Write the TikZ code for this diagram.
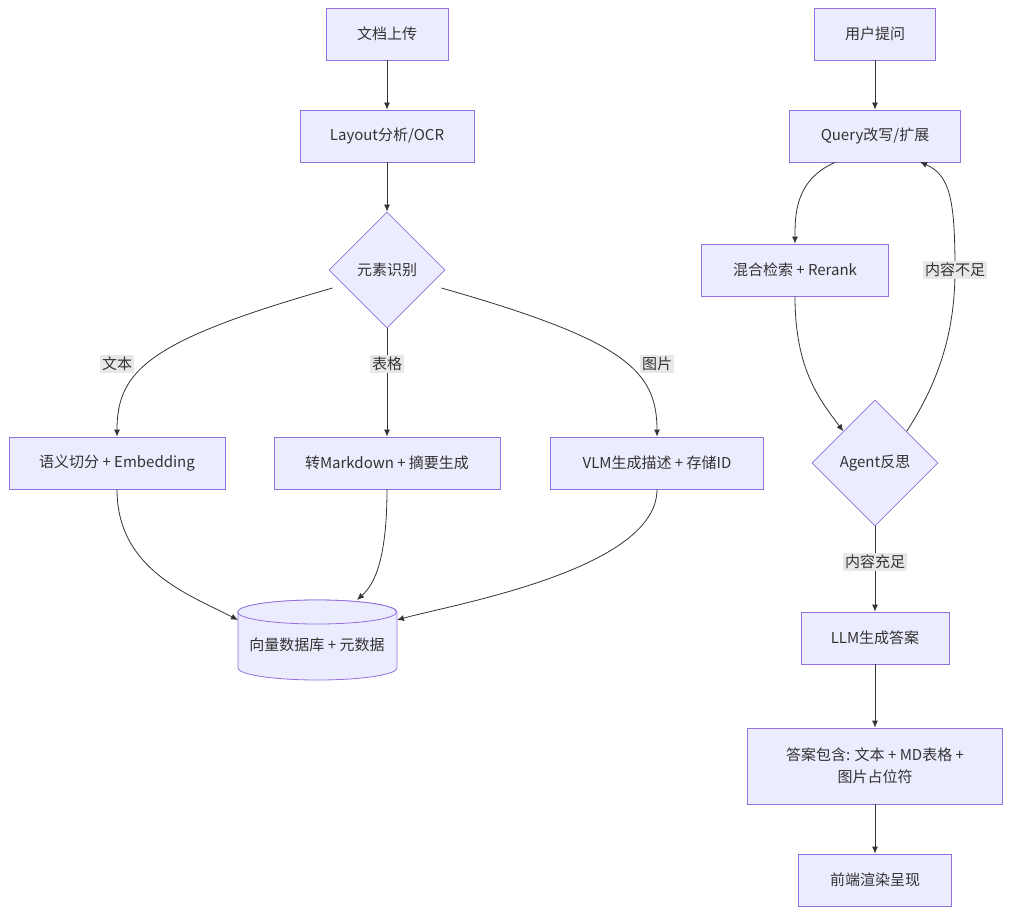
\documentclass[tikz,border=0pt]{standalone}
\usepackage{fontspec}
\setmainfont{Noto Sans CJK SC}
\usetikzlibrary{shapes.geometric,arrows.meta}
\definecolor{nf}{HTML}{ECECFF}
\definecolor{nd}{HTML}{9370DB}
\definecolor{ln}{HTML}{333333}
\definecolor{lb}{HTML}{E8E8E8}
\begin{document}
\begin{tikzpicture}[x=1pt,y=-1pt,
 box/.style={draw=nd,fill=nf,line width=0.8pt,minimum height=52pt,inner sep=0pt,font=\fontsize{15}{22}\selectfont,text=ln},
 dia/.style={draw=nd,fill=nf,line width=0.8pt,diamond,aspect=1,inner sep=0pt,font=\fontsize{15}{22}\selectfont,text=ln},
 e/.style={draw=ln,line width=0.8pt,-{Latex[length=7pt,width=6pt]}},
 lab/.style={fill=lb,inner sep=2pt,font=\fontsize{15}{22}\selectfont,text=ln},
 cyl/.style={draw=nd,fill=nf,line width=0.8pt}]
\useasboundingbox (0,0) rectangle (1012,915);
\node[box,minimum width=122pt] (a) at (387,34) {文档上传};
\node[box,minimum width=174pt] (b) at (387,136) {Layout分析/OCR};
\node[dia,minimum width=116pt,minimum height=116pt] (c) at (387,270) {元素识别};
\node[box,minimum width=216pt] (d) at (117,463) {语义切分 + Embedding};
\node[box,minimum width=226pt] (f) at (387,463) {转Markdown + 摘要生成};
\node[box,minimum width=213pt] (g) at (657,463) {VLM生成描述 + 存储ID};
\path[cyl] (238,612) -- (238,668) arc[start angle=180,end angle=360,x radius=79.5,y radius=-12] -- (397,612) arc[start angle=0,end angle=180,x radius=79.5,y radius=-12] -- cycle;
\path[cyl] (317,612) ellipse[x radius=79.5,y radius=12];
\node[font=\fontsize{15}{22}\selectfont,text=ln,minimum width=159pt,minimum height=80pt] (h) at (317,645) {向量数据库 + 元数据};
\coordinate (hl) at (238,620);
\coordinate (hm) at (357,600);
\coordinate (hr) at (397,620);
\node[box,minimum width=121pt] (u) at (875,34) {用户提问};
\node[box,minimum width=171pt] (q) at (875,136) {Query改写/扩展};
\node[box,minimum width=187pt] (m) at (795,270) {混合检索 + Rerank};
\node[dia,minimum width=126pt,minimum height=126pt] (ag) at (875,463) {Agent反思};
\node[box,minimum width=148pt] (l) at (875,638) {LLM生成答案};
\node[box,minimum width=255pt,minimum height=76pt,align=center] (ans) at (875,766) {答案包含: 文本 + MD表格 +\\图片占位符};
\node[box,minimum width=153pt] (fe) at (875,880) {前端渲染呈现};
\draw[e] (a) -- (b);
\draw[e] (b) -- (c);
\draw[e] (c.west) ++(4,18) .. controls (150,340) and (117,370) .. (d.north);
\draw[e] (c) -- (f);
\draw[e] (c.east) ++(-4,18) .. controls (624,340) and (657,370) .. (g.north);
\node[lab] (t1) at (117,364) {文本};
\node[lab] (t2) at (387,364) {表格};
\node[lab] (t3) at (657,364) {图片};
\draw[e] (d.south) .. controls (117,570) and (190,595) .. (hl);
\draw[e] (f.south) .. controls (387,570) and (370,588) .. (hm);
\draw[e] (g.south) .. controls (657,570) and (450,605) .. (hr);
\draw[e] (u) -- (q);
\draw[e] (q.south) ++(-40,0) .. controls (795,180) and (795,215) .. (m.north);
\draw[e] (m.south) .. controls (795,370) and (820,400) .. (ag.north west);
\draw[e] (ag.north east) .. controls (940,380) and (955,330) .. (955,270) .. controls (955,200) and (950,175) .. (920,162);
\node[lab] (t4) at (955,270) {内容不足};
\draw[e] (ag) -- (l);
\node[lab] (t5) at (875,562) {内容充足};
\draw[e] (l) -- (ans);
\draw[e] (ans) -- (fe);
\end{tikzpicture}
\end{document}
